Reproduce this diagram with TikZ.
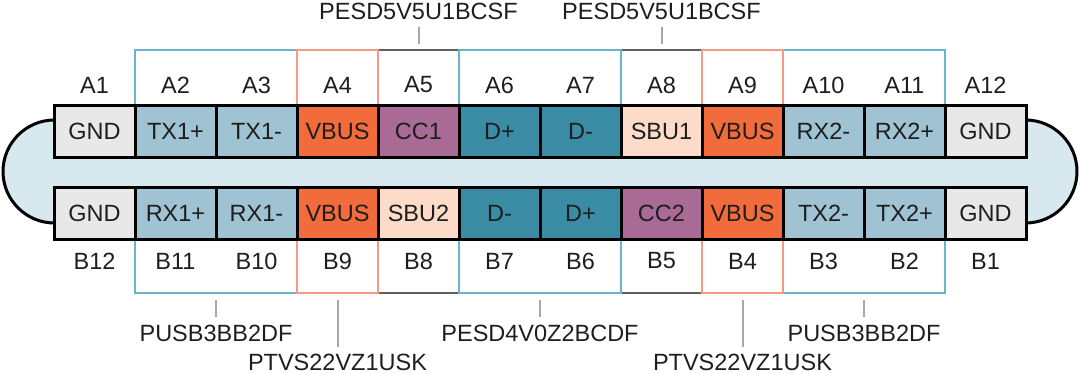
\documentclass[tikz,border=0pt]{standalone}
\usepackage{fontspec}
\setmainfont{Liberation Sans}
\definecolor{cgnd}{HTML}{E8E8E8}
\definecolor{ctx}{HTML}{9FC3D2}
\definecolor{cvbus}{HTML}{F26B3A}
\definecolor{ccc}{HTML}{A96B95}
\definecolor{cd}{HTML}{3A8CA5}
\definecolor{csbu}{HTML}{FCDCC9}
\definecolor{cband}{HTML}{D8E8EF}
\definecolor{bblue}{HTML}{6AB4CC}
\definecolor{bsalm}{HTML}{F59A84}
\definecolor{bgray}{HTML}{606060}
\definecolor{ctick}{HTML}{A8A8A8}
\definecolor{ctext}{HTML}{1E1E1E}
\tikzset{
  pin/.style={draw=black, line width=3pt, minimum width=81pt, minimum height=52pt, inner sep=0pt, outer sep=0pt, text=ctext, font=\fontsize{23.5}{27}\selectfont, anchor=center},
  plabel/.style={text=ctext, font=\fontsize{23.5}{27}\selectfont, inner sep=0pt, anchor=center},
  brblue/.style={draw=bblue, line width=2pt},
  brsalm/.style={draw=bsalm, line width=2pt},
  brgray/.style={draw=bgray, line width=2pt},
  tick/.style={draw=ctick, line width=2pt},
}
\begin{document}
\begin{tikzpicture}[x=1pt,y=-1pt]
\useasboundingbox (0,0) rectangle (1080,373);
% stadium background
\draw[fill=cband, line width=3pt, rounded corners=51.5pt] (3,120) rectangle (1077,223);
% brackets (gray first)
\draw[brgray] (378,105) -- (378,50) -- (459,50) -- (459,105);
\draw[brgray] (621,105) -- (621,50) -- (702,50) -- (702,105);
\draw[brgray] (378,240) -- (378,293) -- (459,293) -- (459,240);
\draw[brgray] (621,240) -- (621,293) -- (702,293) -- (702,240);
\draw[brblue] (135,105) -- (135,50) -- (297,50) -- (297,105);
\draw[brblue] (459,105) -- (459,50) -- (621,50) -- (621,105);
\draw[brblue] (783,105) -- (783,50) -- (945,50) -- (945,105);
\draw[brblue] (135,240) -- (135,293) -- (297,293) -- (297,240);
\draw[brblue] (459,240) -- (459,293) -- (621,293) -- (621,240);
\draw[brblue] (783,240) -- (783,293) -- (945,293) -- (945,240);
\draw[brsalm] (297,105) -- (297,50) -- (378,50) -- (378,105);
\draw[brsalm] (702,105) -- (702,50) -- (783,50) -- (783,105);
\draw[brsalm] (297,240) -- (297,293) -- (378,293) -- (378,240);
\draw[brsalm] (702,240) -- (702,293) -- (783,293) -- (783,240);
% top row
\foreach \i/\t/\c in {1/GND/cgnd,2/TX1+/ctx,3/TX1-/ctx,4/VBUS/cvbus,5/CC1/ccc,6/D+/cd,7/D-/cd,8/SBU1/csbu,9/VBUS/cvbus,10/RX2-/ctx,11/RX2+/ctx,12/GND/cgnd}{
  \node[pin, fill=\c] (a\i) at ({94.5+81*(\i-1)},131) {\t};
  \node[plabel] (la\i) at ({94.5+81*(\i-1)},85) {A\i};
}
% bottom row, left to right B12..B1
\foreach \k/\n/\t/\c in {1/12/GND/cgnd,2/11/RX1+/ctx,3/10/RX1-/ctx,4/9/VBUS/cvbus,5/8/SBU2/csbu,6/7/D-/cd,7/6/D+/cd,8/5/CC2/ccc,9/4/VBUS/cvbus,10/3/TX2-/ctx,11/2/TX2+/ctx,12/1/GND/cgnd}{
  \node[pin, fill=\c] (b\n) at ({94.5+81*(\k-1)},213) {\t};
  \node[plabel] (lb\n) at ({94.5+81*(\k-1)},261) {B\n};
}
% part labels
\node[plabel] (p1) at (418.5,11) {PESD5V5U1BCSF};
\node[plabel] (p2) at (661.5,11) {PESD5V5U1BCSF};
\node[plabel] (p3) at (216,333) {PUSB3BB2DF};
\node[plabel] (p4) at (337.5,362) {PTVS22VZ1USK};
\node[plabel] (p5) at (540,333) {PESD4V0Z2BCDF};
\node[plabel] (p6) at (742.5,362) {PTVS22VZ1USK};
\node[plabel] (p7) at (864,333) {PUSB3BB2DF};
% ticks
\coordinate (t1a) at (418.5,27); \coordinate (t1b) at (418.5,44);
\coordinate (t2a) at (661.5,27); \coordinate (t2b) at (661.5,44);
\coordinate (t3a) at (216,300); \coordinate (t3b) at (216,317);
\coordinate (t4a) at (337.5,300); \coordinate (t4b) at (337.5,347);
\coordinate (t5a) at (540,300); \coordinate (t5b) at (540,317);
\coordinate (t6a) at (742.5,300); \coordinate (t6b) at (742.5,347);
\coordinate (t7a) at (864,300); \coordinate (t7b) at (864,317);
\foreach \j in {1,...,7}{\draw[tick] (t\j a) -- (t\j b);}
\end{tikzpicture}
\end{document}
